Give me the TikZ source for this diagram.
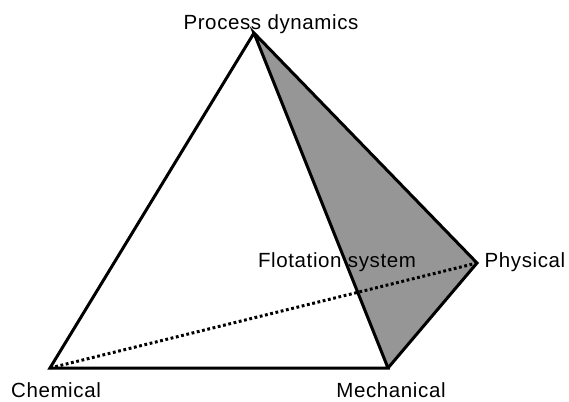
\documentclass[tikz,border=0pt]{standalone}
\usepackage{fontspec}
\setmainfont[LetterSpace=3]{Liberation Sans}
\begin{document}
\begin{tikzpicture}[x=1pt,y=-1pt,
  edge/.style={line width=3pt,line join=miter,line cap=round},
  dotline/.style={line width=3pt,dash pattern=on 2.8pt off 2.6pt},
  lbl/.style={font=\fontsize{20.5}{24}\selectfont,inner sep=0pt}]
\useasboundingbox (0,0) rectangle (569,401);
\coordinate (P) at (254,33);
\coordinate (C) at (50,368);
\coordinate (M) at (388,368);
\coordinate (H) at (477,263);
\fill[fill={rgb,255:red,150;green,150;blue,150}] (P) -- (H) -- (M) -- cycle;
\draw[dotline] (C) -- (H);
\draw[edge] (P) -- (C) -- (M) -- (P) -- (H) -- (M);
\node[lbl,anchor=base] (tP) at (271,30) {Process dynamics};
\node[lbl,anchor=base] (tF) at (337,267) {Flotation system};
\node[lbl,anchor=base] (tH) at (525,267) {Physical};
\node[lbl,anchor=base] (tC) at (56,397) {Chemical};
\node[lbl,anchor=base] (tM) at (391,397) {Mechanical};
\end{tikzpicture}
\end{document}
